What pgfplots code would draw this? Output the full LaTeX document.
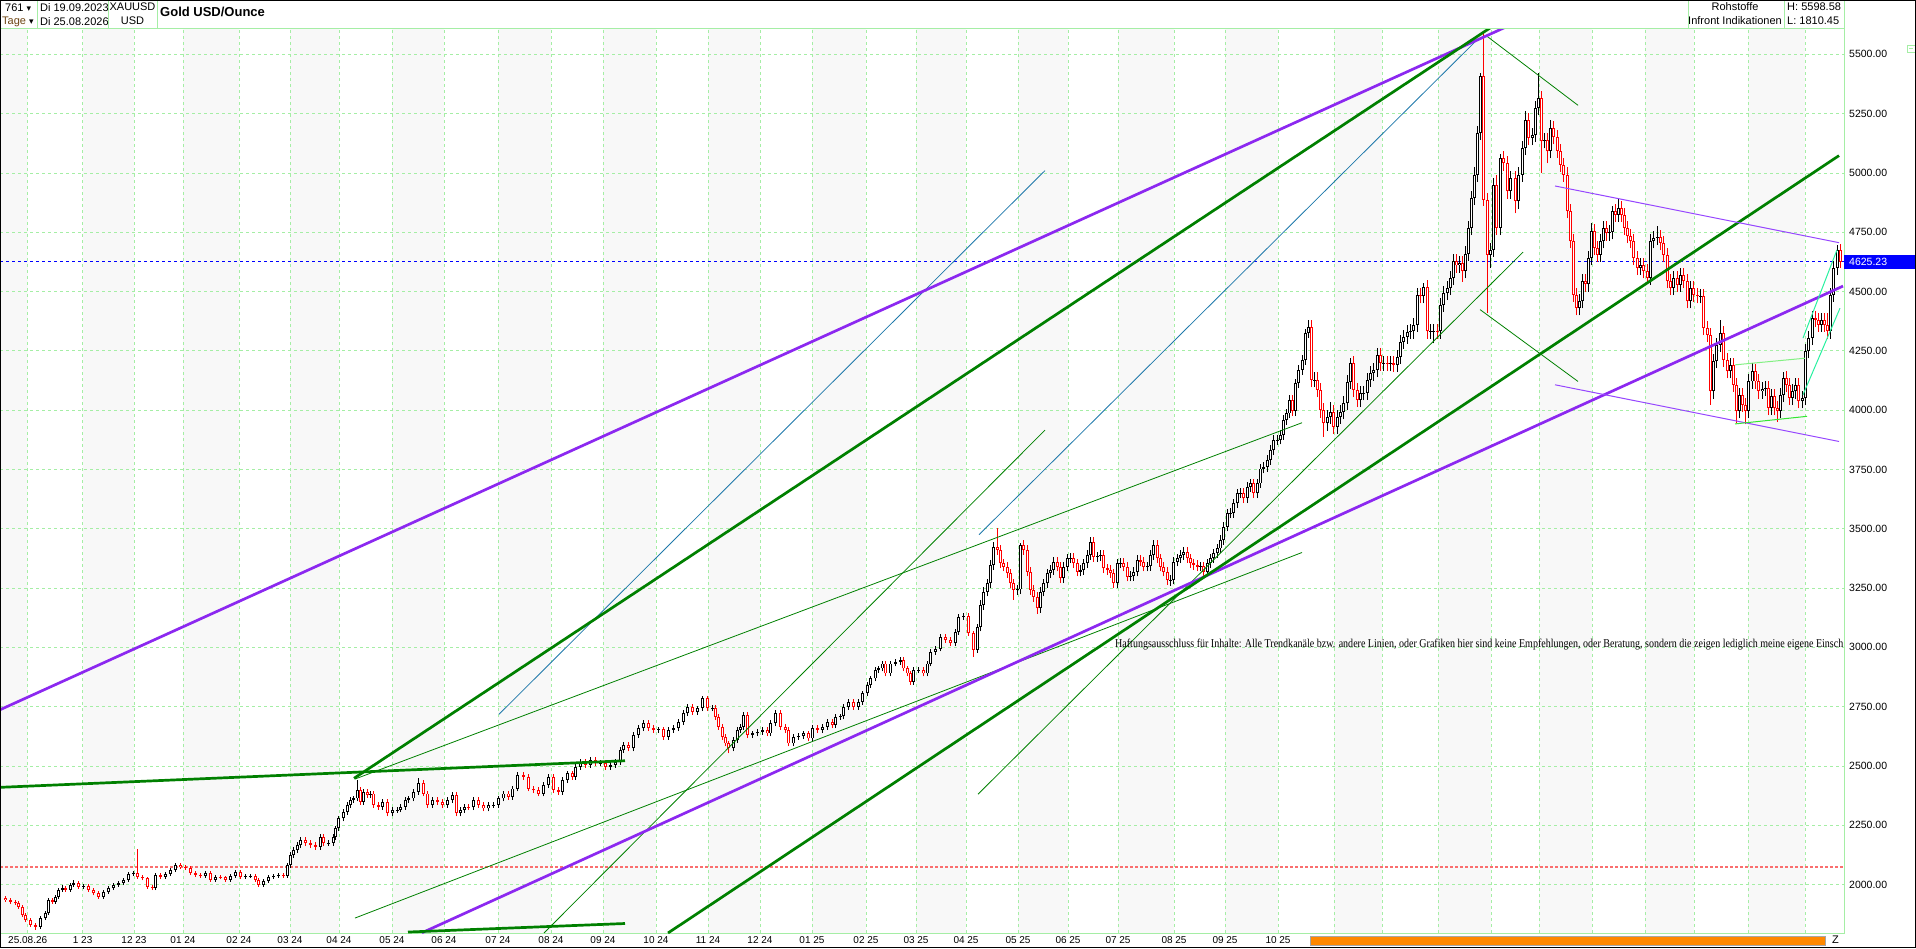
\documentclass[border=0pt]{standalone}
\usepackage{pgfplots}
\pgfplotsset{compat=1.18}
\usepackage{pgfplotstable}
\usepackage{graphicx}
\usepackage{fontspec}
\setmainfont{Liberation Sans}
\newfontfamily\seriffont{Liberation Serif}
\newfontfamily\dejavu{DejaVu Sans}
\definecolor{gridg}{RGB}{165,238,165}
\definecolor{shade}{RGB}{248,248,248}
\definecolor{purp}{RGB}{140,40,240}
\definecolor{purpthin}{RGB}{150,70,255}
\definecolor{dgreen}{RGB}{0,128,0}
\definecolor{tblue}{RGB}{30,120,170}
\definecolor{limeA}{RGB}{130,240,130}
\definecolor{limeB}{RGB}{50,230,50}
\definecolor{spring}{RGB}{40,240,160}
\definecolor{redline}{RGB}{250,110,110}
\definecolor{orangebar}{RGB}{255,136,0}
\definecolor{tagec}{RGB}{110,70,20}

\pgfplotstableread{
x o h l c
5 1945 1953 1927 1935
10 1935 1943 1920 1928
15 1928 1936 1913 1921
18 1921 1929 1899 1907
22 1907 1915 1863 1871
25 1871 1879 1842 1850
30 1850 1858 1821 1829
35 1829 1837 1810 1822
40 1822 1866 1814 1858
45 1858 1887 1850 1879
48 1879 1943 1871 1935
52 1935 1943 1920 1928
55 1928 1957 1920 1949
58 1949 1985 1941 1977
62 1977 2000 1969 1985
65 1985 1993 1969 1977
70 1977 2006 1969 1998
73 1998 2020 1990 2006
78 2006 2014 1983 1991
83 1991 2002 1983 1994
88 1994 2002 1969 1977
93 1977 1985 1955 1963
98 1963 1971 1941 1949
103 1949 1978 1941 1970
108 1970 1993 1962 1985
113 1985 2008 1977 2000
118 2000 2014 1992 2006
123 2006 2027 1998 2019
128 2019 2052 2011 2044
133 2044 2058 2036 2050
137 2050 2149 2025 2033
142 2033 2041 2018 2026
147 2026 2034 1983 1991
152 1991 1999 1977 1985
155 1985 2048 1977 2040
160 2040 2048 2025 2033
165 2033 2052 2025 2044
170 2044 2069 2036 2061
175 2061 2090 2053 2082
180 2082 2090 2065 2073
185 2073 2081 2061 2069
190 2069 2077 2040 2048
195 2048 2056 2032 2040
200 2040 2048 2028 2036
205 2036 2058 2028 2050
210 2050 2058 2011 2019
215 2019 2041 2011 2033
220 2033 2041 2022 2030
225 2030 2038 2013 2021
230 2021 2044 2013 2036
235 2036 2062 2028 2054
240 2054 2062 2025 2033
245 2033 2043 2025 2035
250 2035 2044 2027 2036
255 2036 2044 2011 2019
258 2019 2027 1992 2000
263 2000 2023 1992 2015
268 2015 2041 2007 2033
273 2033 2044 2025 2036
278 2036 2048 2028 2040
283 2040 2048 2028 2036
287 2036 2090 2028 2082
290 2082 2136 2070 2124
293 2124 2157 2112 2145
297 2145 2178 2133 2166
300 2166 2200 2154 2188
305 2188 2200 2162 2174
310 2174 2186 2154 2166
315 2166 2178 2147 2159
320 2159 2213 2147 2201
323 2201 2213 2162 2174
328 2174 2188 2162 2176
333 2176 2213 2164 2201
335 2201 2249 2189 2237
338 2237 2291 2225 2279
343 2279 2319 2267 2307
347 2307 2347 2295 2335
350 2335 2368 2323 2356
353 2356 2375 2344 2363
357 2363 2440 2351 2398
360 2398 2410 2337 2349
363 2349 2403 2337 2391
367 2391 2403 2365 2377
370 2377 2396 2365 2384
373 2384 2396 2323 2335
378 2335 2347 2316 2328
382 2328 2361 2316 2349
387 2349 2361 2288 2300
392 2300 2326 2288 2314
397 2314 2328 2302 2316
400 2316 2340 2304 2328
405 2328 2368 2316 2356
408 2356 2375 2344 2363
413 2363 2403 2351 2391
418 2391 2448 2379 2427
423 2427 2439 2372 2384
427 2384 2396 2323 2335
432 2335 2368 2323 2356
437 2356 2368 2337 2349
442 2349 2361 2323 2335
447 2335 2368 2323 2356
452 2356 2389 2344 2377
456 2377 2389 2288 2300
460 2300 2326 2288 2314
464 2314 2340 2302 2328
468 2328 2340 2314 2326
473 2326 2368 2314 2356
478 2356 2368 2323 2335
483 2335 2347 2309 2321
488 2321 2347 2309 2335
493 2335 2349 2323 2337
498 2337 2375 2325 2363
503 2363 2396 2351 2384
508 2384 2396 2358 2370
512 2370 2417 2358 2405
517 2405 2473 2393 2461
523 2461 2473 2443 2455
528 2455 2467 2393 2405
533 2405 2417 2386 2398
538 2398 2410 2372 2384
543 2384 2431 2372 2419
548 2419 2467 2407 2455
553 2455 2467 2386 2398
558 2398 2410 2379 2391
562 2391 2452 2379 2440
567 2440 2481 2428 2469
572 2469 2481 2443 2455
575 2455 2509 2443 2497
580 2497 2530 2485 2518
585 2518 2530 2492 2504
590 2504 2537 2492 2525
595 2525 2537 2499 2511
600 2511 2525 2499 2513
605 2513 2525 2485 2497
610 2497 2516 2485 2504
615 2504 2530 2492 2518
620 2518 2579 2506 2567
623 2567 2600 2555 2588
628 2588 2600 2562 2574
633 2574 2642 2562 2630
638 2630 2671 2618 2659
643 2659 2692 2647 2680
648 2680 2692 2647 2659
653 2659 2671 2640 2652
658 2652 2666 2640 2654
663 2654 2666 2611 2623
668 2623 2664 2611 2652
673 2652 2671 2640 2659
678 2659 2698 2647 2686
683 2686 2734 2674 2722
687 2722 2762 2710 2750
692 2750 2762 2717 2729
697 2729 2755 2717 2743
702 2743 2797 2731 2785
707 2785 2797 2731 2743
712 2743 2757 2731 2745
715 2745 2757 2695 2707
718 2707 2719 2653 2665
722 2665 2677 2611 2623
725 2623 2635 2583 2595
728 2595 2607 2553 2574
733 2574 2621 2562 2609
737 2609 2663 2597 2651
740 2651 2677 2639 2665
743 2665 2727 2653 2715
747 2715 2727 2618 2630
752 2630 2649 2618 2637
757 2637 2656 2625 2644
762 2644 2663 2632 2651
767 2651 2663 2625 2637
770 2637 2692 2625 2680
775 2680 2734 2668 2722
780 2722 2734 2653 2665
785 2665 2677 2639 2651
788 2651 2663 2583 2595
793 2595 2635 2583 2623
798 2623 2637 2611 2625
803 2625 2649 2613 2637
808 2637 2649 2604 2616
812 2616 2671 2604 2659
817 2659 2671 2639 2651
822 2651 2677 2639 2665
827 2665 2698 2653 2686
832 2686 2698 2660 2672
835 2672 2719 2660 2707
840 2707 2721 2695 2709
843 2709 2762 2697 2750
848 2750 2783 2738 2771
853 2771 2783 2738 2750
858 2750 2783 2738 2771
862 2771 2818 2759 2806
867 2806 2853 2794 2841
870 2841 2881 2829 2869
875 2869 2916 2857 2904
878 2904 2923 2892 2911
882 2911 2944 2899 2932
885 2932 2944 2878 2890
890 2890 2944 2878 2932
895 2932 2951 2920 2939
900 2939 2958 2927 2946
903 2946 2958 2899 2911
907 2911 2923 2878 2890
910 2890 2902 2843 2855
913 2855 2916 2843 2904
918 2904 2918 2892 2906
923 2906 2918 2878 2890
927 2890 2944 2878 2932
930 2932 2993 2920 2981
935 2981 3007 2969 2995
940 2995 3057 2983 3045
945 3045 3057 3019 3031
950 3031 3043 3005 3017
955 3017 3078 3005 3066
958 3066 3141 3054 3129
963 3129 3143 3117 3131
968 3131 3143 3047 3059
973 3059 3071 2961 2989
977 2989 3099 2977 3087
980 3087 3198 3067 3178
983 3178 3255 3158 3235
987 3235 3290 3215 3270
990 3270 3367 3250 3347
993 3347 3444 3327 3424
997 3424 3503 3390 3410
1000 3410 3430 3334 3354
1003 3354 3374 3320 3340
1007 3340 3360 3292 3312
1010 3312 3332 3250 3270
1013 3270 3290 3200 3242
1017 3242 3264 3222 3244
1020 3244 3440 3224 3431
1023 3431 3451 3390 3410
1027 3410 3430 3299 3319
1030 3319 3339 3222 3242
1033 3242 3262 3193 3213
1037 3213 3233 3140 3165
1040 3165 3255 3145 3235
1043 3235 3290 3215 3270
1047 3270 3332 3250 3312
1050 3312 3346 3292 3326
1053 3326 3381 3306 3361
1057 3361 3381 3320 3340
1060 3340 3360 3271 3291
1063 3291 3360 3271 3340
1067 3340 3395 3320 3375
1070 3375 3397 3355 3377
1073 3377 3397 3334 3354
1077 3354 3374 3299 3319
1080 3319 3346 3299 3326
1083 3326 3374 3306 3354
1087 3354 3409 3334 3389
1090 3389 3465 3369 3445
1093 3445 3465 3362 3382
1097 3382 3404 3362 3384
1100 3384 3409 3364 3389
1103 3389 3409 3313 3333
1107 3333 3353 3306 3326
1110 3326 3346 3292 3312
1113 3312 3332 3250 3270
1117 3270 3374 3250 3354
1120 3354 3376 3334 3356
1123 3356 3376 3320 3340
1127 3340 3360 3278 3298
1130 3298 3320 3278 3300
1133 3300 3339 3280 3319
1137 3319 3388 3299 3368
1140 3368 3388 3341 3361
1143 3361 3381 3320 3340
1147 3340 3362 3320 3342
1150 3342 3409 3322 3389
1153 3389 3451 3369 3431
1157 3431 3451 3355 3375
1160 3375 3395 3320 3340
1163 3340 3360 3299 3319
1167 3319 3339 3264 3284
1170 3284 3306 3260 3286
1173 3286 3381 3266 3361
1177 3361 3395 3341 3375
1180 3375 3409 3355 3389
1183 3389 3423 3369 3403
1187 3403 3423 3355 3375
1190 3375 3395 3334 3354
1193 3354 3374 3327 3347
1197 3347 3367 3320 3340
1200 3340 3362 3320 3342
1203 3342 3362 3299 3319
1207 3319 3374 3299 3354
1210 3354 3395 3334 3375
1213 3375 3416 3355 3396
1217 3396 3437 3376 3417
1220 3417 3472 3397 3452
1223 3452 3529 3432 3509
1227 3509 3585 3489 3565
1230 3565 3587 3545 3567
1233 3567 3627 3547 3607
1237 3607 3669 3587 3649
1240 3649 3671 3629 3651
1243 3651 3671 3608 3628
1247 3628 3697 3608 3677
1250 3677 3711 3657 3691
1253 3691 3711 3629 3649
1257 3649 3711 3629 3691
1260 3691 3774 3671 3754
1263 3754 3781 3734 3761
1267 3761 3810 3741 3790
1270 3790 3852 3770 3832
1273 3832 3894 3812 3874
1277 3874 3896 3854 3876
1280 3876 3915 3856 3895
1283 3895 3978 3875 3958
1286 3958 4006 3938 3986
1289 3986 4063 3966 4043
1292 4043 4063 3975 3995
1295 3995 4133 3975 4113
1298 4113 4189 4093 4169
1302 4169 4231 4149 4211
1305 4211 4344 4191 4324
1308 4324 4380 4304 4352
1311 4352 4382 4097 4127
1314 4127 4159 4097 4129
1317 4129 4159 4055 4085
1320 4085 4115 3969 3999
1323 3999 4029 3887 3944
1327 3944 4002 3914 3972
1330 3972 4035 3942 3992
1333 3992 4022 3900 3930
1337 3930 4002 3900 3972
1340 3972 4022 3942 3992
1343 3992 4059 3962 4029
1347 4029 4150 3999 4120
1350 4120 4220 4090 4197
1353 4197 4227 4055 4085
1357 4085 4115 4013 4043
1360 4043 4101 4013 4071
1363 4071 4103 4041 4073
1367 4073 4157 4043 4127
1370 4127 4185 4097 4155
1373 4155 4199 4125 4169
1377 4169 4262 4139 4232
1380 4232 4262 4167 4197
1383 4197 4229 4167 4199
1387 4199 4229 4165 4195
1390 4195 4227 4165 4197
1393 4197 4227 4160 4190
1397 4190 4255 4160 4225
1400 4225 4318 4195 4288
1403 4288 4340 4258 4310
1407 4310 4360 4280 4330
1410 4330 4362 4300 4332
1413 4332 4390 4302 4360
1417 4360 4517 4330 4487
1420 4487 4517 4450 4480
1423 4480 4535 4450 4520
1427 4520 4550 4302 4332
1430 4332 4364 4302 4334
1433 4334 4365 4282 4335
1437 4335 4365 4302 4332
1440 4332 4474 4302 4444
1443 4444 4524 4414 4494
1447 4494 4545 4464 4515
1450 4515 4587 4485 4557
1453 4557 4657 4527 4627
1456 4627 4657 4580 4610
1459 4610 4650 4580 4620
1462 4620 4650 4541 4585
1465 4585 4690 4555 4660
1468 4660 4798 4630 4768
1471 4768 4924 4738 4894
1474 4894 5023 4864 4993
1477 4993 5198 4963 5168
1480 5168 5420 5138 5407
1483 5407 5598 4860 4887
1487 4887 4917 4409 4655
1490 4655 4706 4600 4676
1493 4676 4980 4646 4950
1496 4950 4990 4740 4768
1500 4768 5080 4738 5062
1503 5062 5092 5010 5040
1507 5040 5070 4892 4922
1510 4922 5009 4892 4979
1515 4979 5009 4830 4880
1518 4880 5023 4850 4993
1522 4993 5135 4963 5105
1525 5105 5260 5075 5224
1528 5224 5254 5117 5147
1532 5147 5190 5117 5160
1535 5160 5303 5130 5273
1538 5273 5421 5243 5316
1541 5316 5346 5000 5133
1544 5133 5170 5103 5140
1547 5140 5170 5040 5091
1550 5091 5225 5061 5189
1553 5189 5219 5120 5150
1557 5150 5180 5062 5092
1560 5092 5122 5005 5035
1563 5035 5065 4963 4993
1567 4993 5023 4808 4838
1570 4838 4868 4682 4712
1573 4712 4742 4457 4487
1576 4487 4517 4400 4430
1579 4430 4489 4400 4459
1582 4459 4574 4429 4544
1585 4544 4574 4500 4530
1588 4530 4671 4500 4641
1591 4641 4790 4611 4754
1594 4754 4784 4654 4684
1597 4684 4714 4625 4655
1600 4655 4742 4625 4712
1603 4712 4798 4682 4768
1606 4768 4798 4715 4745
1609 4745 4780 4715 4750
1612 4750 4860 4720 4838
1615 4838 4868 4794 4824
1618 4824 4894 4794 4852
1621 4852 4882 4794 4824
1624 4824 4854 4738 4768
1627 4768 4798 4703 4733
1630 4733 4763 4682 4712
1633 4712 4742 4611 4641
1637 4641 4671 4569 4599
1640 4599 4640 4569 4610
1643 4610 4640 4555 4585
1647 4585 4615 4540 4557
1650 4557 4742 4527 4712
1653 4712 4756 4682 4726
1657 4726 4775 4696 4730
1660 4730 4760 4674 4704
1663 4704 4734 4625 4655
1667 4655 4685 4513 4543
1670 4543 4573 4485 4515
1673 4515 4585 4485 4555
1677 4555 4585 4499 4529
1680 4529 4601 4499 4571
1683 4571 4601 4513 4543
1687 4543 4573 4429 4459
1690 4459 4545 4429 4515
1693 4515 4545 4457 4487
1697 4487 4517 4450 4480
1700 4480 4512 4450 4482
1703 4482 4512 4316 4346
1707 4346 4376 4288 4318
1710 4318 4348 4023 4079
1713 4079 4236 4049 4206
1716 4206 4306 4176 4276
1720 4276 4380 4246 4325
1723 4325 4355 4183 4213
1727 4213 4243 4134 4164
1730 4164 4221 4134 4191
1733 4191 4221 4077 4107
1736 4107 4137 3946 3995
1739 3995 4094 3965 4064
1742 4064 4094 3993 4023
1745 4023 4053 3940 3995
1748 3995 4151 3965 4121
1752 4121 4200 4091 4164
1755 4164 4194 4091 4121
1758 4121 4151 4049 4079
1762 4079 4120 4049 4090
1765 4090 4123 4060 4093
1768 4093 4123 3979 4009
1771 4009 4088 3979 4058
1774 4058 4088 3979 4009
1777 4009 4039 3950 3995
1780 3995 4094 3965 4064
1783 4064 4160 4034 4135
1786 4135 4165 4077 4107
1789 4107 4137 4021 4051
1792 4051 4109 4021 4079
1795 4079 4137 4049 4107
1798 4107 4137 4007 4037
1802 4037 4080 4007 4050
1805 4050 4278 4020 4248
1808 4248 4334 4218 4304
1812 4304 4418 4274 4388
1815 4388 4418 4350 4380
1818 4380 4410 4330 4360
1821 4360 4410 4330 4380
1824 4380 4410 4330 4360
1827 4360 4409 4302 4332
1830 4332 4517 4302 4487
1833 4487 4629 4457 4599
1837 4599 4697 4569 4676
1840 4676 4700 4600 4625
}\candles

\pgfplotsset{
  candlepart/.style={draw=none, mark=none, forget plot,
    /pgfplots/error bars/y dir=plus,
    /pgfplots/error bars/y explicit,
    /pgfplots/error bars/error mark=none},
}

\begin{document}
\begin{tikzpicture}[x=1pt,y=1pt]
% orange period bar below the axis
\draw[fill=orangebar, draw=gray!70, line width=0.8pt] (1310,3) rectangle (1825,12);
\begin{axis}[
  at={(0pt,15pt)}, anchor=south west,
  scale only axis, width=1844pt, height=905pt,
  xmin=0, xmax=1844, ymin=1796, ymax=5611,
  set layers,
  axis line style={draw=gridg, line width=0.8pt},
  tick style={draw=none},
  grid=major,
  major grid style={draw=gridg, dash pattern=on 3pt off 3pt, line width=0.8pt},
  xtick={27.7,82.6,134,183,239,290,339,392,444,498,551,603,656,708,760,812,866,916,966,1018,1068,1118,1174,1225,1278,1334,1382,1438,1491,1539,1592,1645,1694,1748,1805},
  xticklabels={25.08.26,1 23,12 23,01 24,02 24,03 24,04 24,05 24,06 24,07 24,08 24,09 24,10 24,11 24,12 24,01 25,02 25,03 25,04 25,05 25,06 25,07 25,08 25,09 25,10 25,11 25,12 25,01 26,02 26,03 26,04 26,05 26,06 26,07 26,08 26},
  xticklabel style={font=\fontsize{10}{12}\selectfont, anchor=north, inner sep=0pt, yshift=-3pt},
  ytick={2000,2250,2500,2750,3000,3250,3500,3750,4000,4250,4500,4750,5000,5250,5500},
  yticklabels={2000.00,2250.00,2500.00,2750.00,3000.00,3250.00,3500.00,3750.00,4000.00,4250.00,4500.00,4750.00,5000.00,5250.00,5500.00},
  yticklabel pos=right,
  yticklabel style={font=\fontsize{10.5}{12}\selectfont, anchor=west, inner sep=0pt, xshift=5pt},
]
% alternating month shading
\addplot [fill=shade, draw=none, on layer=axis background, forget plot] coordinates {
(0,1796) (0,5611) (27.7,5611) (27.7,1796)
(82.6,1796) (82.6,5611) (134,5611) (134,1796)
(183,1796) (183,5611) (239,5611) (239,1796)
(290,1796) (290,5611) (339,5611) (339,1796)
(392,1796) (392,5611) (444,5611) (444,1796)
(498,1796) (498,5611) (551,5611) (551,1796)
(603,1796) (603,5611) (656,5611) (656,1796)
(708,1796) (708,5611) (760,5611) (760,1796)
(812,1796) (812,5611) (866,5611) (866,1796)
(916,1796) (916,5611) (966,5611) (966,1796)
(1018,1796) (1018,5611) (1068,5611) (1068,1796)
(1118,1796) (1118,5611) (1174,5611) (1174,1796)
(1225,1796) (1225,5611) (1278,5611) (1278,1796)
(1334,1796) (1334,5611) (1382,5611) (1382,1796)
(1438,1796) (1438,5611) (1491,5611) (1491,1796)
(1539,1796) (1539,5611) (1592,5611) (1592,1796)
(1645,1796) (1645,5611) (1694,5611) (1694,1796)
(1748,1796) (1748,5611) (1805,5611) (1805,1796)
};

% reference levels
\addplot [redline, line width=2pt, dash pattern=on 2.5pt off 2.5pt, forget plot] coordinates {(0,2075) (1844,2075)};
\addplot [blue, line width=1pt, dash pattern=on 3pt off 3pt, forget plot] coordinates {(0,4625.23) (1844,4625.23)};

% ---- candles: wicks
\addplot [candlepart,
  restrict expr to domain={\thisrow{c}-\thisrow{o}}{0:100000},
  /pgfplots/error bars/error bar style={draw=black, line width=1pt}]
  table [x=x, y=l, y error expr=\thisrow{h}-\thisrow{l}] {\candles};
\addplot [candlepart,
  restrict expr to domain={\thisrow{c}-\thisrow{o}}{-100000:-0.5},
  /pgfplots/error bars/error bar style={draw=red, line width=1pt}]
  table [x=x, y=l, y error expr=\thisrow{h}-\thisrow{l}] {\candles};
% ---- bodies (up: black outline, white inside)
\addplot [candlepart,
  restrict expr to domain={\thisrow{c}-\thisrow{o}}{0:100000},
  /pgfplots/error bars/error bar style={draw=black, line width=3pt}]
  table [x=x, y=o, y error expr=\thisrow{c}-\thisrow{o}] {\candles};
\addplot [candlepart,
  restrict expr to domain={\thisrow{c}-\thisrow{o}}{0:100000},
  /pgfplots/error bars/error bar style={draw=white, line width=1pt}]
  table [x=x, y expr=\thisrow{o}+4, y error expr={max(\thisrow{c}-\thisrow{o}-8,0)}] {\candles};
% ---- bodies (down: red outline, white inside)
\addplot [candlepart,
  restrict expr to domain={\thisrow{c}-\thisrow{o}}{-100000:-0.5},
  /pgfplots/error bars/error bar style={draw=red, line width=3pt}]
  table [x=x, y=c, y error expr=\thisrow{o}-\thisrow{c}] {\candles};
\addplot [candlepart,
  restrict expr to domain={\thisrow{c}-\thisrow{o}}{-100000:-0.5},
  /pgfplots/error bars/error bar style={draw=white, line width=1pt}]
  table [x=x, y expr=\thisrow{c}+4, y error expr={max(\thisrow{o}-\thisrow{c}-8,0)}] {\candles};

% ---- trend lines
\addplot [tblue, line width=0.8pt, forget plot] coordinates {(499,2718) (1045,5010)};
\addplot [tblue, line width=0.8pt, forget plot] coordinates {(979,3475) (1478,5565)};
\addplot [dgreen, line width=0.8pt, forget plot] coordinates {(355,2445) (1302,3947)};
\addplot [dgreen, line width=0.8pt, forget plot] coordinates {(355,1859) (1302,3400)};
\addplot [dgreen, line width=0.8pt, forget plot] coordinates {(544,1796) (1045,3916)};
\addplot [dgreen, line width=0.8pt, forget plot] coordinates {(978,2381) (1523,4666)};
\addplot [dgreen, line width=0.8pt, forget plot] coordinates {(1480,4424) (1578,4121)};
\addplot [dgreen, line width=0.8pt, forget plot] coordinates {(1487,5576) (1578,5285)};
\addplot [purp, line width=2.7pt, forget plot] coordinates {(0,2737) (1510,5623)};
\addplot [purp, line width=2.7pt, forget plot] coordinates {(422,1797) (1843,4523)};
\addplot [dgreen, line width=2.7pt, forget plot] coordinates {(354,2448) (1495,5625)};
\addplot [dgreen, line width=2.7pt, forget plot] coordinates {(0,2410) (625,2522)};
\addplot [dgreen, line width=2.7pt, forget plot] coordinates {(408,1800) (625,1836)};
\addplot [dgreen, line width=2.7pt, forget plot] coordinates {(668,1796) (1839,5073)};
\addplot [purpthin, line width=1pt, forget plot] coordinates {(1555,4945) (1839,4706)};
\addplot [purpthin, line width=1pt, forget plot] coordinates {(1555,4107) (1839,3868)};
\addplot [limeA, line width=1pt, forget plot] coordinates {(1735,4191) (1805,4219)};
\addplot [limeB, line width=1pt, forget plot] coordinates {(1735,3942) (1807,3974)};
\addplot [spring, line width=1pt, forget plot] coordinates {(1803,4304) (1837,4676)};
\addplot [spring, line width=1pt, forget plot] coordinates {(1803,4065) (1840,4430)};
\end{axis}

% disclaimer
\node[anchor=base west, inner sep=0pt, font=\seriffont\fontsize{12}{14}\selectfont] at (1115,300)
 {\resizebox{728pt}{\height}{Haftungsausschluss für Inhalte: Alle Trendkanäle bzw. andere Linien, oder Grafiken hier sind keine Empfehlungen, oder Beratung, sondern die zeigen lediglich meine eigene Einsch}};

% last price box
\fill[blue] (1844,679) rectangle (1916,693);
\node[anchor=west, inner sep=0pt, text=white, font=\fontsize{10.5}{12}\selectfont] at (1849,686) {4625.23};

% header
\fill[white] (0,920.4) rectangle (1916,948);
\draw[gridg, line width=0.8pt] (0,920) -- (1844,920);
\draw[gridg, line width=0.8pt] (37.5,920) -- (37.5,948);
\draw[gridg, line width=0.8pt] (108,920) -- (108,948);
\draw[gridg, line width=0.8pt] (157,920) -- (157,948);
\draw[gridg, line width=0.8pt] (1688,920) -- (1688,948);
\draw[gridg, line width=0.8pt] (1784,920) -- (1784,948);
\draw[gridg, line width=0.8pt] (1844,920) -- (1844,948);
\node[anchor=west, inner sep=0pt, font=\fontsize{11}{12}\selectfont] at (5,940.5) {761 {\dejavu\fontsize{9}{10}\selectfont ▾}};
\node[anchor=west, inner sep=0pt, font=\fontsize{11}{12}\selectfont, text=tagec] at (2,926) {Tage {\dejavu\fontsize{9}{10}\selectfont\color{black}▾}};
\node[anchor=west, inner sep=0pt, font=\fontsize{11}{12}\selectfont] at (40,940.5) {Di 19.09.2023};
\node[anchor=west, inner sep=0pt, font=\fontsize{11}{12}\selectfont] at (40,926) {Di 25.08.2026};
\node[inner sep=0pt, font=\fontsize{11}{12}\selectfont] at (132.5,941) {XAUUSD};
\node[inner sep=0pt, font=\fontsize{11}{12}\selectfont] at (132.5,927) {USD};
\node[anchor=west, inner sep=0pt, font=\bfseries\fontsize{13}{14}\selectfont] at (160,936) {Gold USD/Ounce};
\node[inner sep=0pt, font=\fontsize{11}{12}\selectfont] at (1735,941) {Rohstoffe};
\node[inner sep=0pt, font=\fontsize{11}{12}\selectfont] at (1735,927) {Infront Indikationen};
\node[anchor=west, inner sep=0pt, font=\fontsize{11}{12}\selectfont] at (1787,941) {H: 5598.58};
\node[anchor=west, inner sep=0pt, font=\fontsize{11}{12}\selectfont] at (1787,927) {L: 1810.45};
% small control at top right
\draw[gridg, line width=0.7pt] (1907,896) rectangle (1915,903);
\draw[gridg, line width=0.7pt] (1909,899.5) -- (1913,899.5);
% Z marker
\node[anchor=west, inner sep=0pt, font=\fontsize{11}{12}\selectfont] at (1832,8) {Z};
% outer frame
\draw[black, line width=1pt] (0.5,0.5) rectangle (1915.5,947.5);
\pgfresetboundingbox
\useasboundingbox (0,0) rectangle (1916,948);
\end{tikzpicture}
\end{document}
